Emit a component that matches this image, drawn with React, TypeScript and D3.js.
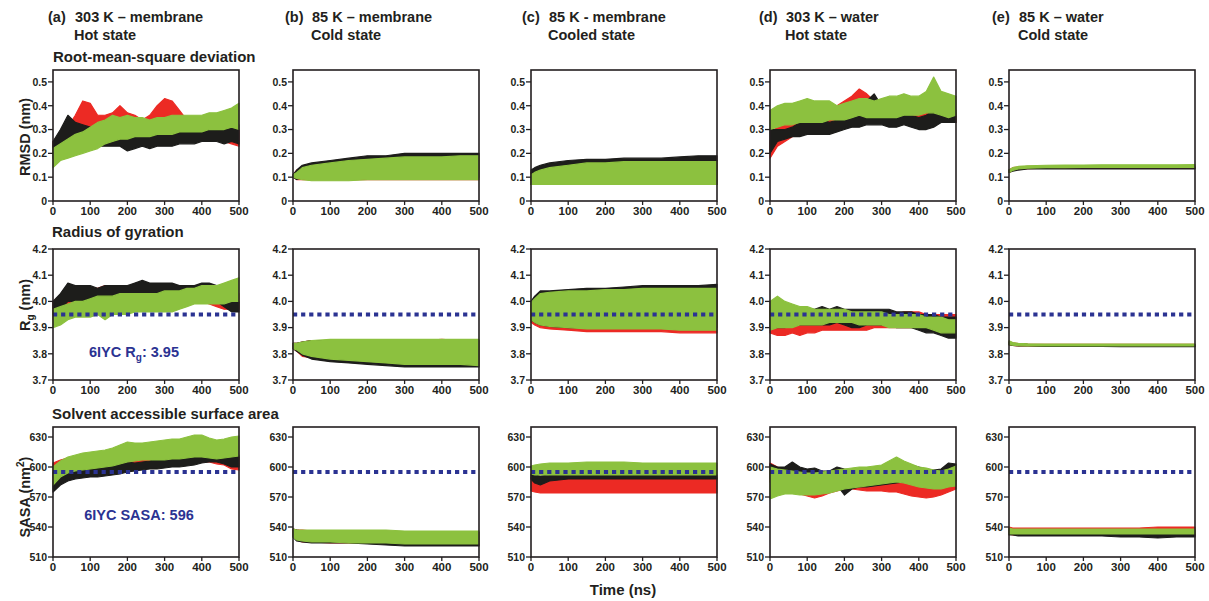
import * as d3 from "d3";

// time grids (ns) the envelopes were read at
const tFine = [0, 20, 40, 60, 80, 100, 120, 140, 160, 180, 200, 220, 240, 260, 280, 300, 320, 340, 360, 380, 400, 420, 440, 460, 480, 500];
const tCoarse = [0, 10, 25, 50, 100, 150, 200, 250, 300, 350, 400, 450, 500];

// ---- RMSD (nm): [low, high] of each trace ----
const rmsdA_black = [[0.18,0.25],[0.2,0.3],[0.25,0.36],[0.24,0.33],[0.22,0.32],[0.22,0.31],[0.23,0.3],[0.23,0.3],[0.23,0.3],[0.23,0.3],[0.21,0.3],[0.22,0.31],[0.23,0.32],[0.22,0.3],[0.23,0.3],[0.23,0.31],[0.23,0.3],[0.24,0.3],[0.24,0.3],[0.24,0.31],[0.25,0.31],[0.25,0.32],[0.25,0.3],[0.24,0.3],[0.25,0.31],[0.24,0.32]];
const rmsdA_red = [[0.2,0.25],[0.22,0.28],[0.24,0.31],[0.26,0.36],[0.28,0.42],[0.27,0.41],[0.27,0.36],[0.28,0.36],[0.28,0.37],[0.28,0.4],[0.27,0.37],[0.26,0.36],[0.25,0.34],[0.26,0.36],[0.28,0.4],[0.3,0.43],[0.3,0.42],[0.28,0.38],[0.28,0.34],[0.27,0.33],[0.27,0.33],[0.26,0.32],[0.26,0.31],[0.25,0.31],[0.24,0.3],[0.23,0.3]];
const rmsdA_green = [[0.14,0.22],[0.17,0.24],[0.18,0.26],[0.19,0.28],[0.2,0.29],[0.21,0.31],[0.22,0.33],[0.24,0.34],[0.25,0.36],[0.26,0.35],[0.26,0.36],[0.27,0.35],[0.27,0.35],[0.27,0.34],[0.28,0.35],[0.28,0.35],[0.28,0.36],[0.29,0.36],[0.29,0.36],[0.29,0.36],[0.29,0.36],[0.3,0.37],[0.3,0.37],[0.3,0.38],[0.31,0.39],[0.3,0.41]];

const rmsdB_black = [[0.1,0.11],[0.09,0.13],[0.1,0.15],[0.1,0.16],[0.1,0.17],[0.1,0.18],[0.1,0.19],[0.1,0.19],[0.1,0.2],[0.1,0.2],[0.1,0.2],[0.1,0.2],[0.1,0.2]];
const rmsdB_red = [[0.1,0.11],[0.09,0.13],[0.09,0.14],[0.09,0.155],[0.09,0.165],[0.09,0.175],[0.09,0.18],[0.09,0.18],[0.09,0.19],[0.09,0.19],[0.09,0.19],[0.09,0.19],[0.09,0.19]];
const rmsdB_green = [[0.1,0.11],[0.095,0.12],[0.09,0.14],[0.085,0.15],[0.085,0.16],[0.085,0.17],[0.09,0.175],[0.09,0.18],[0.09,0.185],[0.09,0.185],[0.09,0.185],[0.09,0.19],[0.09,0.19]];

const rmsdC_black = [[0.07,0.13],[0.07,0.14],[0.07,0.15],[0.07,0.16],[0.07,0.17],[0.07,0.175],[0.07,0.175],[0.07,0.18],[0.07,0.18],[0.07,0.18],[0.07,0.185],[0.07,0.19],[0.07,0.19]];
const rmsdC_red = [[0.07,0.12],[0.07,0.13],[0.07,0.14],[0.07,0.15],[0.07,0.16],[0.07,0.165],[0.07,0.17],[0.07,0.17],[0.07,0.17],[0.07,0.17],[0.07,0.17],[0.07,0.17],[0.07,0.17]];
const rmsdC_green = [[0.07,0.11],[0.07,0.12],[0.07,0.13],[0.07,0.14],[0.07,0.15],[0.07,0.16],[0.07,0.16],[0.07,0.165],[0.07,0.165],[0.07,0.165],[0.07,0.165],[0.07,0.165],[0.07,0.165]];

const rmsdD_black = [[0.2,0.3],[0.25,0.3],[0.26,0.3],[0.27,0.31],[0.27,0.33],[0.28,0.33],[0.28,0.33],[0.28,0.34],[0.28,0.33],[0.29,0.34],[0.3,0.35],[0.31,0.37],[0.31,0.39],[0.32,0.42],[0.32,0.45],[0.32,0.4],[0.31,0.38],[0.31,0.42],[0.32,0.38],[0.31,0.36],[0.3,0.35],[0.3,0.36],[0.31,0.38],[0.33,0.4],[0.33,0.42],[0.33,0.38]];
const rmsdD_red = [[0.18,0.25],[0.23,0.33],[0.25,0.35],[0.27,0.35],[0.28,0.4],[0.3,0.42],[0.31,0.4],[0.31,0.38],[0.32,0.38],[0.32,0.4],[0.33,0.42],[0.35,0.44],[0.36,0.47],[0.36,0.45],[0.35,0.42],[0.34,0.42],[0.33,0.41],[0.33,0.4],[0.33,0.38],[0.33,0.37],[0.33,0.37],[0.34,0.38],[0.35,0.4],[0.35,0.4],[0.34,0.38],[0.33,0.37]];
const rmsdD_green = [[0.3,0.38],[0.31,0.4],[0.32,0.41],[0.32,0.41],[0.33,0.42],[0.33,0.43],[0.33,0.42],[0.33,0.42],[0.34,0.42],[0.34,0.4],[0.34,0.41],[0.35,0.42],[0.36,0.43],[0.35,0.43],[0.35,0.42],[0.35,0.43],[0.35,0.44],[0.35,0.44],[0.36,0.45],[0.36,0.44],[0.36,0.44],[0.37,0.46],[0.37,0.52],[0.36,0.46],[0.35,0.45],[0.36,0.44]];

const rmsdE_black = [[0.12,0.13],[0.125,0.135],[0.13,0.14],[0.135,0.14],[0.135,0.14],[0.135,0.142],[0.135,0.142],[0.135,0.142],[0.135,0.142],[0.135,0.142],[0.135,0.142],[0.135,0.142],[0.135,0.142]];
const rmsdE_red = [[0.12,0.13],[0.128,0.14],[0.133,0.142],[0.136,0.145],[0.138,0.146],[0.138,0.147],[0.138,0.147],[0.138,0.147],[0.138,0.147],[0.138,0.147],[0.138,0.147],[0.138,0.147],[0.138,0.147]];
const rmsdE_green = [[0.12,0.13],[0.128,0.14],[0.135,0.145],[0.138,0.148],[0.14,0.15],[0.14,0.151],[0.141,0.151],[0.141,0.152],[0.141,0.152],[0.141,0.152],[0.141,0.152],[0.141,0.152],[0.141,0.153]];

// ---- Radius of gyration (nm) ----
const rgA_black = [[3.95,4.0],[3.97,4.03],[4.0,4.07],[4.0,4.06],[4.0,4.06],[4.0,4.06],[3.99,4.05],[4.0,4.06],[4.0,4.06],[4.0,4.06],[4.0,4.06],[4.0,4.07],[4.01,4.08],[4.0,4.07],[4.0,4.07],[4.01,4.07],[4.0,4.07],[4.0,4.06],[4.01,4.06],[4.01,4.06],[4.01,4.07],[4.01,4.07],[4.0,4.06],[3.98,4.04],[3.96,4.02],[3.96,4.0]];
const rgA_red = [[3.93,4.0],[3.95,4.02],[3.97,4.04],[3.97,4.05],[3.98,4.05],[3.98,4.05],[3.98,4.05],[3.98,4.06],[3.98,4.05],[3.99,4.06],[3.99,4.06],[3.98,4.05],[3.99,4.06],[3.99,4.06],[3.99,4.06],[4.0,4.06],[4.0,4.06],[4.0,4.06],[4.0,4.06],[4.0,4.06],[4.0,4.06],[3.99,4.06],[3.98,4.05],[3.97,4.04],[3.97,4.04],[3.97,4.03]];
const rgA_green = [[3.9,3.97],[3.91,3.98],[3.93,3.99],[3.94,4.0],[3.94,4.0],[3.94,4.01],[3.95,4.02],[3.93,4.02],[3.95,4.02],[3.95,4.03],[3.95,4.03],[3.96,4.03],[3.96,4.03],[3.96,4.03],[3.96,4.03],[3.96,4.04],[3.96,4.04],[3.97,4.04],[3.98,4.05],[3.99,4.05],[3.99,4.06],[3.99,4.06],[3.99,4.06],[3.99,4.07],[4.0,4.08],[4.0,4.09]];

const rgB_black = [[3.82,3.84],[3.81,3.84],[3.795,3.845],[3.78,3.85],[3.77,3.85],[3.765,3.85],[3.76,3.85],[3.755,3.85],[3.75,3.85],[3.75,3.85],[3.75,3.85],[3.75,3.85],[3.75,3.85]];
const rgB_red = [[3.82,3.84],[3.81,3.84],[3.79,3.845],[3.785,3.85],[3.775,3.85],[3.77,3.85],[3.765,3.85],[3.76,3.85],[3.76,3.85],[3.76,3.85],[3.76,3.855],[3.755,3.85],[3.755,3.85]];
const rgB_green = [[3.82,3.84],[3.815,3.84],[3.8,3.845],[3.79,3.85],[3.78,3.855],[3.775,3.855],[3.77,3.855],[3.765,3.855],[3.76,3.855],[3.76,3.855],[3.76,3.855],[3.76,3.855],[3.755,3.855]];

const rgC_black = [[3.93,4.0],[3.92,4.02],[3.91,4.04],[3.905,4.04],[3.9,4.045],[3.9,4.05],[3.9,4.05],[3.9,4.055],[3.9,4.06],[3.9,4.06],[3.9,4.06],[3.9,4.06],[3.9,4.065]];
const rgC_red = [[3.92,3.99],[3.91,4.01],[3.9,4.02],[3.895,4.025],[3.89,4.03],[3.885,4.035],[3.885,4.035],[3.885,4.04],[3.885,4.04],[3.885,4.04],[3.88,4.045],[3.88,4.045],[3.88,4.045]];
const rgC_green = [[3.93,3.995],[3.92,4.01],[3.91,4.03],[3.905,4.035],[3.9,4.04],[3.895,4.04],[3.895,4.045],[3.895,4.045],[3.895,4.05],[3.895,4.05],[3.89,4.05],[3.89,4.05],[3.89,4.05]];

const rgD_black = [[3.9,3.98],[3.9,3.97],[3.9,3.97],[3.91,3.97],[3.91,3.97],[3.91,3.97],[3.91,3.97],[3.91,3.98],[3.91,3.97],[3.92,3.98],[3.91,3.97],[3.9,3.97],[3.9,3.97],[3.91,3.97],[3.91,3.97],[3.91,3.97],[3.91,3.97],[3.9,3.96],[3.9,3.96],[3.9,3.96],[3.89,3.95],[3.88,3.95],[3.88,3.95],[3.87,3.94],[3.86,3.94],[3.86,3.94]];
const rgD_red = [[3.88,4.0],[3.87,3.97],[3.87,3.95],[3.88,3.95],[3.87,3.95],[3.88,3.95],[3.88,3.95],[3.89,3.95],[3.89,3.95],[3.89,3.96],[3.89,3.95],[3.89,3.95],[3.89,3.96],[3.89,3.96],[3.9,3.96],[3.9,3.96],[3.9,3.95],[3.9,3.95],[3.9,3.96],[3.9,3.96],[3.9,3.96],[3.9,3.95],[3.9,3.95],[3.9,3.95],[3.9,3.95],[3.9,3.95]];
const rgD_green = [[3.89,4.0],[3.9,4.02],[3.9,4.0],[3.9,3.99],[3.91,3.98],[3.91,3.98],[3.91,3.97],[3.91,3.97],[3.92,3.97],[3.92,3.97],[3.92,3.97],[3.92,3.96],[3.91,3.96],[3.91,3.96],[3.91,3.96],[3.91,3.96],[3.9,3.95],[3.9,3.95],[3.9,3.95],[3.9,3.95],[3.9,3.95],[3.9,3.94],[3.89,3.94],[3.88,3.94],[3.88,3.93],[3.88,3.93]];

const rgE_black = [[3.835,3.845],[3.832,3.84],[3.83,3.838],[3.83,3.836],[3.828,3.835],[3.828,3.835],[3.828,3.835],[3.828,3.835],[3.827,3.835],[3.827,3.835],[3.827,3.835],[3.827,3.835],[3.827,3.835]];
const rgE_red = [[3.835,3.847],[3.832,3.842],[3.83,3.839],[3.83,3.837],[3.829,3.836],[3.829,3.836],[3.829,3.836],[3.829,3.836],[3.829,3.836],[3.829,3.836],[3.829,3.836],[3.829,3.836],[3.829,3.836]];
const rgE_green = [[3.835,3.85],[3.833,3.843],[3.831,3.84],[3.83,3.838],[3.83,3.837],[3.83,3.837],[3.83,3.837],[3.83,3.837],[3.83,3.837],[3.83,3.837],[3.83,3.837],[3.83,3.837],[3.83,3.837]];

// ---- SASA (nm²) ----
const sasaA_black = [[575,595],[582,596],[586,597],[588,598],[589,600],[590,600],[590,600],[591,601],[592,602],[593,603],[595,605],[596,604],[597,605],[598,606],[598,608],[599,608],[600,608],[600,609],[601,610],[602,612],[604,613],[605,613],[605,612],[603,612],[600,612],[600,612]];
const sasaA_red = [[590,604],[593,607],[595,609],[596,610],[596,611],[597,612],[597,613],[598,614],[598,616],[599,620],[600,624],[600,620],[600,618],[601,619],[601,620],[602,620],[602,621],[603,622],[603,622],[604,624],[605,625],[605,622],[603,618],[602,616],[598,612],[597,610]];
const sasaA_green = [[582,600],[590,606],[594,610],[596,612],[597,614],[598,615],[599,616],[600,617],[601,619],[603,622],[605,625],[606,624],[607,624],[607,625],[607,626],[607,627],[608,628],[608,628],[609,630],[610,632],[610,632],[609,629],[608,627],[609,628],[610,630],[611,631]];

const sasaB_black = [[530,538],[526,537],[525,536],[524,536],[524,536],[524,536],[523,536],[522,535],[521,535],[521,535],[521,535],[521,535],[521,535]];
const sasaB_red = [[531,538],[527,537],[525,537],[525,536],[524,536],[524,536],[524,536],[523,536],[523,535],[523,535],[522,535],[522,535],[522,535]];
const sasaB_green = [[530,538],[527,537],[526,537],[525,537],[525,537],[524,537],[524,537],[524,537],[523,536],[523,536],[523,536],[523,536],[523,536]];

const sasaC_black = [[588,593],[584,592],[582,591],[586,592],[588,592],[588,592],[588,592],[588,592],[588,592],[588,592],[588,592],[588,592],[588,592]];
const sasaC_red = [[576,590],[575,589],[574,588],[574,588],[574,589],[574,589],[574,589],[574,589],[574,589],[574,589],[574,589],[574,589],[574,589]];
const sasaC_green = [[593,601],[592,602],[592,603],[592,604],[592,604],[592,605],[592,605],[592,605],[592,604],[592,604],[592,604],[592,604],[592,604]];

const sasaD_black = [[588,603],[588,600],[587,600],[586,605],[585,600],[583,598],[582,599],[582,596],[583,596],[582,600],[572,598],[578,597],[580,598],[580,598],[581,599],[582,600],[583,600],[584,602],[585,603],[585,602],[585,600],[585,598],[585,597],[584,598],[585,604],[586,603]];
const sasaD_red = [[585,604],[580,600],[577,597],[575,596],[573,593],[571,592],[569,590],[571,591],[574,592],[576,594],[578,595],[578,595],[577,595],[576,594],[576,595],[576,594],[575,592],[575,592],[573,590],[571,588],[570,586],[569,585],[570,585],[572,588],[575,592],[578,595]];
const sasaD_green = [[568,600],[571,598],[573,597],[573,596],[572,595],[572,594],[572,594],[573,595],[574,596],[576,597],[578,598],[579,599],[580,600],[581,600],[582,601],[583,602],[584,606],[585,610],[584,606],[582,603],[580,600],[579,599],[578,597],[578,596],[580,598],[581,601]];

const sasaE_black = [[532,538],[532,537],[531,537],[531,537],[531,537],[531,537],[531,537],[531,537],[530,537],[530,537],[529,537],[530,537],[530,537]];
const sasaE_red = [[533,540],[532,539],[532,539],[532,539],[532,539],[532,539],[532,539],[532,539],[532,539],[532,539],[532,540],[532,540],[532,540]];
const sasaE_green = [[533,539],[533,538],[533,538],[533,538],[533,538],[533,538],[533,538],[533,538],[533,538],[533,538],[533,538],[533,538],[533,538]];

const timeTicks = [0, 100, 200, 300, 400, 500];
const rmsdTicks = [0, 0.1, 0.2, 0.3, 0.4, 0.5];
const rgTicks = [3.7, 3.8, 3.9, 4.0, 4.1, 4.2];
const sasaTicks = [510, 540, 570, 600, 630];
const rgRef = 3.95;
const sasaRef = 595;

const columns = [
  { tag: "(a)", line1: "303 K \u2013 membrane", line2: "Hot state", x: 48 },
  { tag: "(b)", line1: "85 K \u2013 membrane", line2: "Cold state", x: 285 },
  { tag: "(c)", line1: "85 K - membrane", line2: "Cooled state", x: 522 },
  { tag: "(d)", line1: "303 K \u2013 water", line2: "Hot state", x: 759 },
  { tag: "(e)", line1: "85 K \u2013 water", line2: "Cold state", x: 992 },
];

const BLACK = "#1d1d1b";
const RED = "#ec2a24";
const GREEN = "#8cc13f";
const NAVY = "#2b3392";
const INK = "#231f20";
const FONT = "'Liberation Sans', Arial, Helvetica, sans-serif";

const colLeft = [53, 293, 531, 770, 1009];
const plotW = 186;

type Band = number[][];
type Cell = { t: number[]; k: Band; r: Band; g: Band };

const rows: {
  top: number; bottom: number; domain: [number, number]; ticks: number[];
  fmt: (v: number) => string; ref: number | null; cells: Cell[];
}[] = [
  {
    top: 70, bottom: 201, domain: [0, 0.55], ticks: rmsdTicks,
    fmt: (v) => (v === 0 ? "0" : v.toFixed(1)), ref: null,
    cells: [
      { t: tFine, k: rmsdA_black, r: rmsdA_red, g: rmsdA_green },
      { t: tCoarse, k: rmsdB_black, r: rmsdB_red, g: rmsdB_green },
      { t: tCoarse, k: rmsdC_black, r: rmsdC_red, g: rmsdC_green },
      { t: tFine, k: rmsdD_black, r: rmsdD_red, g: rmsdD_green },
      { t: tCoarse, k: rmsdE_black, r: rmsdE_red, g: rmsdE_green },
    ],
  },
  {
    top: 249, bottom: 380, domain: [3.7, 4.2], ticks: rgTicks,
    fmt: (v) => v.toFixed(1), ref: rgRef,
    cells: [
      { t: tFine, k: rgA_black, r: rgA_red, g: rgA_green },
      { t: tCoarse, k: rgB_black, r: rgB_red, g: rgB_green },
      { t: tCoarse, k: rgC_black, r: rgC_red, g: rgC_green },
      { t: tFine, k: rgD_black, r: rgD_red, g: rgD_green },
      { t: tCoarse, k: rgE_black, r: rgE_red, g: rgE_green },
    ],
  },
  {
    top: 427, bottom: 557, domain: [510, 640], ticks: sasaTicks,
    fmt: (v) => String(v), ref: sasaRef,
    cells: [
      { t: tFine, k: sasaA_black, r: sasaA_red, g: sasaA_green },
      { t: tCoarse, k: sasaB_black, r: sasaB_red, g: sasaB_green },
      { t: tCoarse, k: sasaC_black, r: sasaC_red, g: sasaC_green },
      { t: tFine, k: sasaD_black, r: sasaD_red, g: sasaD_green },
      { t: tCoarse, k: sasaE_black, r: sasaE_red, g: sasaE_green },
    ],
  },
];

function Panel({ row, col }: { row: (typeof rows)[number]; col: number }) {
  const left = colLeft[col];
  const cell = row.cells[col];
  const x = d3.scaleLinear().domain([0, 500]).range([left, left + plotW]);
  const y = d3.scaleLinear().domain(row.domain).range([row.bottom, row.top]);
  const band = (data: Band) =>
    d3
      .area<number[]>()
      .x((_, i) => x(cell.t[i]))
      .y0((d) => y(d[0]))
      .y1((d) => y(d[1]))(data) || "";
  const traces: [Band, string][] = [
    [cell.r, RED],
    [cell.k, BLACK],
    [cell.g, GREEN],
  ];
  return (
    <g>
      {traces.map(([d, c], i) => (
        <path key={i} d={band(d)} fill={c} stroke={c} strokeWidth={1.2} strokeLinejoin="round" />
      ))}
      {row.ref !== null && (
        <line
          x1={x(0)} x2={x(500)} y1={y(row.ref)} y2={y(row.ref)}
          stroke={NAVY} strokeWidth={4} strokeDasharray="4.2 3.9"
        />
      )}
      <rect x={left} y={row.top} width={plotW} height={row.bottom - row.top}
        fill="none" stroke={INK} strokeWidth={1.6} />
      {row.ticks.map((v) => (
        <g key={v}>
          <line x1={left - 5} x2={left} y1={y(v)} y2={y(v)} stroke={INK} strokeWidth={1.3} />
          <text x={left - 6} y={y(v) + 3.8} textAnchor="end" fontSize={10.5} fontWeight="bold" fill={INK}>
            {row.fmt(v)}
          </text>
        </g>
      ))}
      {timeTicks.map((v) => (
        <g key={v}>
          <line x1={x(v)} x2={x(v)} y1={row.bottom} y2={row.bottom + 4} stroke={INK} strokeWidth={1.3} />
          <text x={x(v)} y={row.bottom + 14} textAnchor="middle" fontSize={11.5} fontWeight="bold" fill={INK}>
            {v}
          </text>
        </g>
      ))}
    </g>
  );
}

export default function App() {
  return (
    <svg width={1209} height={601} fontFamily={FONT}
      style={{ position: "absolute", left: 0, top: 0, background: "#fff" }}>
      {columns.map((c) => (
        <g key={c.tag} fontSize={14.5} fontWeight="bold" fill={INK}>
          <text x={c.x} y={22}>{c.tag}</text>
          <text x={c.x + 27} y={22}>{c.line1}</text>
          <text x={c.x + 26} y={40}>{c.line2}</text>
        </g>
      ))}
      <g fontSize={15} fontWeight="bold" fill={INK}>
        <text x={53} y={62}>Root-mean-square deviation</text>
        <text x={52} y={237}>Radius of gyration</text>
        <text x={52} y={419}>Solvent accessible surface area</text>
      </g>
      <g fontSize={14.5} fontWeight="bold" fill={INK} textAnchor="middle">
        <text transform="translate(30,137) rotate(-90)">RMSD (nm)</text>
        <text transform="translate(30,305) rotate(-90)">
          R<tspan fontSize={10} dy={4}>g</tspan><tspan dy={-4}> (nm)</tspan>
        </text>
        <text transform="translate(30,497) rotate(-90)">
          SASA (nm<tspan fontSize={10} dy={-6}>2</tspan><tspan dy={6}>)</tspan>
        </text>
        <text x={623} y={595} fontSize={15}>Time (ns)</text>
      </g>
      {rows.map((row, ri) =>
        row.cells.map((_, ci) => <Panel key={`${ri}-${ci}`} row={row} col={ci} />)
      )}
      <g fontSize={14.5} fontWeight="bold" fill={NAVY} textAnchor="middle">
        <text x={134} y={357}>
          6IYC R<tspan fontSize={10} dy={4}>g</tspan><tspan dy={-4}>: 3.95</tspan>
        </text>
        <text x={139} y={520}>6IYC SASA: 596</text>
      </g>
    </svg>
  );
}
